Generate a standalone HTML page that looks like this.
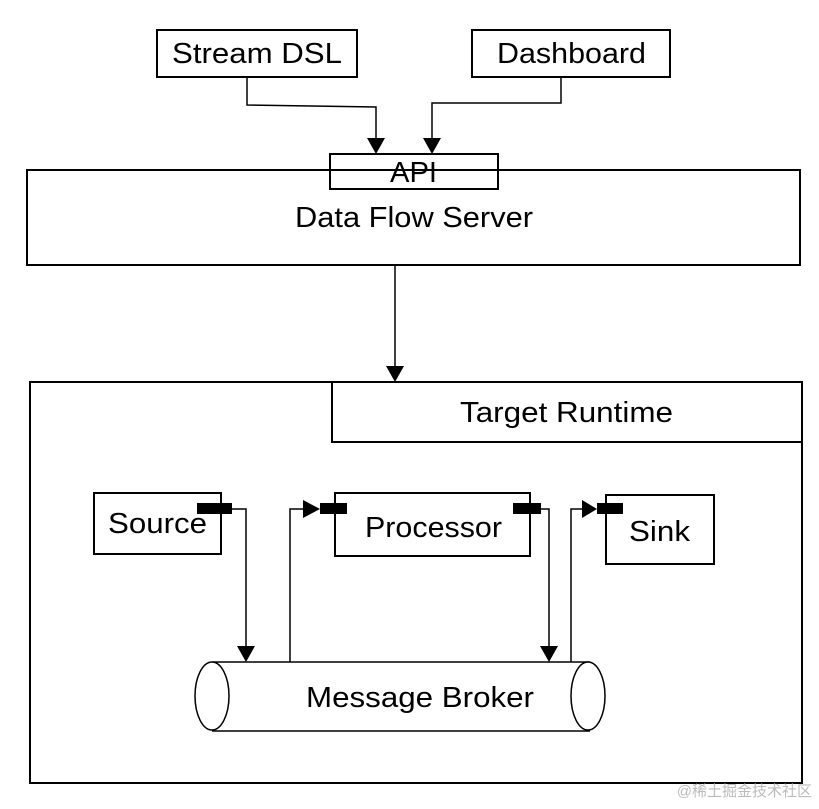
<!DOCTYPE html>
<html><head><style>
body{margin:0;background:#fff;}
svg text{font-family:"Liberation Sans",sans-serif;fill:#000;}
</style></head><body>
<svg width="819" height="804" viewBox="0 0 819 804" xmlns="http://www.w3.org/2000/svg">
<g fill="none" stroke="#000" stroke-width="2">
<rect x="157" y="30" width="200" height="47"/>
<rect x="472" y="30" width="198" height="47"/>
<rect x="27" y="170" width="773" height="95"/>
<rect x="330" y="154" width="168" height="35"/>
<rect x="30" y="382" width="772" height="401"/>
<rect x="332" y="382" width="470" height="60"/>
<rect x="94" y="493" width="127" height="61"/>
<rect x="335" y="493" width="195" height="63"/>
<rect x="606" y="495" width="108" height="69"/>
<polyline points="247,77 247,105 376,107 376,140" stroke-width="1.5"/>
<polyline points="561,77 561,103 432,103 432,140" stroke-width="1.5"/>
<line x1="395" y1="265" x2="395" y2="368" stroke-width="1.5"/>
<polyline points="232,509 246,509 246,648" stroke-width="1.5"/>
<polyline points="290,662 290,509 305,509" stroke-width="1.5"/>
<polyline points="541,509 549,509 549,648" stroke-width="1.5"/>
<polyline points="571,662 571,509 584,509" stroke-width="1.5"/>
<path d="M212,662 L590,662 M212,731 L590,731" stroke-width="1.5"/>
<ellipse cx="212" cy="696" rx="17" ry="34" fill="#fff" stroke-width="1.5"/>
<ellipse cx="588" cy="696" rx="17" ry="34" fill="#fff" stroke-width="1.5"/>
</g>
<g fill="#000">
<polygon points="367,138 385,138 376,154"/>
<polygon points="423,138 441,138 432,154"/>
<polygon points="386,366 404,366 395,382"/>
<polygon points="237,646 255,646 246,662"/>
<polygon points="540,646 558,646 549,662"/>
<polygon points="303,500 303,518 320,509"/>
<polygon points="582,500 582,518 597,509"/>
<rect x="197" y="503" width="35" height="11"/>
<rect x="320" y="503" width="27" height="11"/>
<rect x="513" y="503" width="28" height="11"/>
<rect x="597" y="503" width="26" height="11"/>
</g>
<g font-size="29">
<text x="172" y="63" textLength="170" lengthAdjust="spacingAndGlyphs">Stream DSL</text>
<text x="497" y="63" textLength="149" lengthAdjust="spacingAndGlyphs">Dashboard</text>
<text x="390" y="182" textLength="47" lengthAdjust="spacingAndGlyphs">API</text>
<text x="295" y="227" textLength="238" lengthAdjust="spacingAndGlyphs">Data Flow Server</text>
<text x="460" y="422" textLength="213" lengthAdjust="spacingAndGlyphs">Target Runtime</text>
<text x="108" y="533" textLength="99" lengthAdjust="spacingAndGlyphs">Source</text>
<text x="365" y="537" textLength="137" lengthAdjust="spacingAndGlyphs">Processor</text>
<text x="629" y="541" textLength="61" lengthAdjust="spacingAndGlyphs">Sink</text>
<text x="306" y="707" textLength="228" lengthAdjust="spacingAndGlyphs">Message Broker</text>
</g>
<text x="812" y="796" text-anchor="end" font-size="15" style="fill:#bbb;font-family:'Liberation Sans','Noto Sans CJK SC',sans-serif">@稀土掘金技术社区</text>
</svg>
</body></html>
